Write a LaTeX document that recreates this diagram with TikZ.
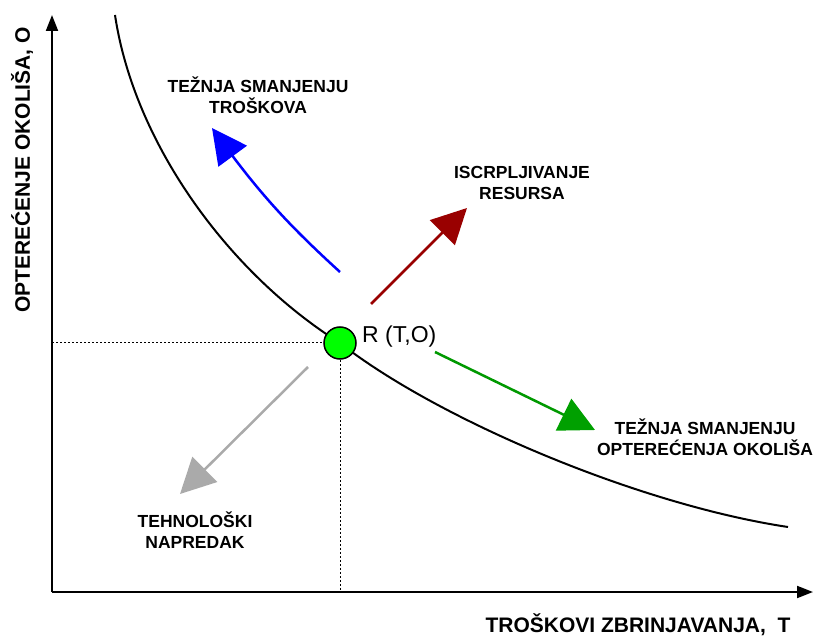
\documentclass[tikz,border=0pt]{standalone}
\usepackage{fontspec}
\setmainfont{Liberation Sans}
\usetikzlibrary{arrows.meta,bending}
\definecolor{myblue}{HTML}{0000FF}
\definecolor{myred}{HTML}{990000}
\definecolor{mygreen}{HTML}{009900}
\definecolor{mygreenhead}{HTML}{00A000}
\definecolor{mygray}{HTML}{AAAAAA}
\definecolor{dotgreen}{HTML}{00FF00}
\begin{document}
\begin{tikzpicture}[x=1pt,y=-1pt,
  lbl/.style={font=\fontsize{17.5}{21}\selectfont\bfseries, align=center, inner sep=0pt},
  axlbl/.style={font=\fontsize{21}{24}\selectfont\bfseries, inner sep=0pt},
  axis/.style={line width=2pt, -{Triangle[length=16pt,width=12pt]}},
  bigarrow/.style={line width=2.5pt, -{Triangle[length=35pt,width=35pt,flex]}},
  guide/.style={line width=1pt, dash pattern=on 2pt off 2pt},
  pt/.style={circle, draw=black, line width=1.5pt, fill=dotgreen, minimum size=32pt, inner sep=0pt}
]
\useasboundingbox (0,0) rectangle (814,636);
% axes
\coordinate (O) at (52,592);
\coordinate (ytop) at (52,15);
\coordinate (xend) at (813,592);
\draw[axis] (O) -- (ytop);
\draw[axis] (O) -- (xend);
% point R
\coordinate (Rc) at (340,343);
% curve
\coordinate (c0) at (115,15);
\coordinate (c3) at (788,527);
\draw[line width=2pt, black] (c0) .. controls (134.5,145) and (230,274) .. (Rc)
  .. controls (437,419) and (638,504.5) .. (c3);
\node[pt] (R) at (Rc) {};
\coordinate (yR) at (52,343);
\coordinate (xR) at (340,592);
\draw[guide] (yR) -- (R.west);
\draw[guide] (R.south) -- (xR);
\node[font=\fontsize{23}{26}\selectfont, anchor=west, inner sep=0pt] (Rl) at (362,337) {R (T,O)};
% arrows
\coordinate (bs) at (340,272); \coordinate (be) at (212,128);
\draw[bigarrow, myblue] (bs) to[bend left=6] (be);
\coordinate (rs) at (371,304); \coordinate (re) at (467,208);
\draw[bigarrow, myred] (rs) -- (re);
\coordinate (gs) at (435,352); \coordinate (ge) at (595,430);
\draw[line width=2.5pt, mygreen, -{Triangle[length=35pt,width=35pt,fill=mygreenhead,color=mygreenhead]}] (gs) -- (ge);
\coordinate (ys) at (308,367); \coordinate (ye) at (180,494);
\draw[bigarrow, mygray] (ys) -- (ye);
% labels
\node[lbl] (l1) at (258,95) {TEŽNJA SMANJENJU\\TROŠKOVA};
\node[lbl] (l2) at (522,183) {ISCRPLJIVANJE\\RESURSA};
\node[lbl] (l3) at (705,437) {TEŽNJA SMANJENJU\\OPTEREĆENJA OKOLIŠA};
\node[lbl] (l4) at (195,530) {TEHNOLOŠKI\\NAPREDAK};
\node[axlbl] (xl) at (638,625) {TROŠKOVI ZBRINJAVANJA,\ \ T};
\node[axlbl, rotate=90] (yl) at (22,170) {OPTEREĆENJE OKOLIŠA, O};
\end{tikzpicture}
\end{document}
